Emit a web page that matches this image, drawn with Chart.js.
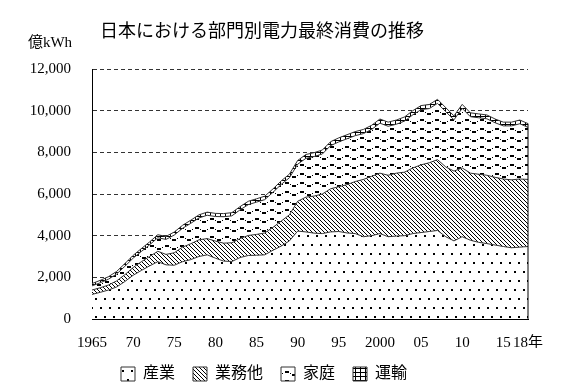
<!DOCTYPE html>
<html lang="ja">
<head>
<meta charset="utf-8">
<title>日本における部門別電力最終消費の推移</title>
<script src="https://cdn.jsdelivr.net/npm/chart.js@4.4.1/dist/chart.umd.min.js"></script>
<style>
  html, body { margin: 0; padding: 0; background: #fff; }
  #grafico { display: block; }
</style>
</head>
<body>
<canvas id="grafico" width="562" height="392"></canvas>
<script>
// --- DADOS (億kWh) ---
const years = [1965, 1966, 1967, 1968, 1969, 1970, 1971, 1972, 1973, 1974,
               1975, 1976, 1977, 1978, 1979, 1980, 1981, 1982, 1983, 1984,
               1985, 1986, 1987, 1988, 1989, 1990, 1991, 1992, 1993, 1994,
               1995, 1996, 1997, 1998, 1999, 2000, 2001, 2002, 2003, 2004,
               2005, 2006, 2007, 2008, 2009, 2010, 2011, 2012, 2013, 2014,
               2015, 2016, 2017, 2018];

const industry = [1180, 1280, 1390, 1540, 1800, 2100, 2330, 2550, 2750, 2600,
                  2580, 2750, 2850, 3000, 3080, 2920, 2780, 2760, 2950, 3050,
                  3060, 3080, 3300, 3500, 3750, 4220, 4180, 4120, 4100, 4180,
                  4200, 4130, 4100, 3950, 4000, 4100, 3950, 3980, 4000, 4100,
                  4150, 4200, 4250, 3950, 3750, 3950, 3780, 3680, 3620, 3550,
                  3480, 3420, 3450, 3480];

const commercial = [210, 220, 240, 290, 330, 370, 420, 450, 500, 500,
                    600, 700, 760, 800, 780, 820, 860, 900, 910, 960,
                    1000, 1050, 1100, 1200, 1250, 1430, 1670, 1780, 1900, 2070,
                    2150, 2320, 2500, 2750, 2850, 2900, 2950, 3020, 3050, 3150,
                    3250, 3300, 3400, 3350, 3350, 3300, 3220, 3270, 3280, 3250,
                    3240, 3260, 3270, 3220];

const household = [200, 240, 280, 330, 400, 450, 490, 560, 650, 720,
                   850, 900, 980, 1050, 1120, 1180, 1270, 1290, 1380, 1480,
                   1550, 1600, 1680, 1760, 1780, 1780, 1860, 1900, 1920, 2070,
                   2150, 2200, 2200, 2200, 2250, 2400, 2350, 2350, 2450, 2550,
                   2650, 2600, 2700, 2650, 2460, 2860, 2710, 2710, 2710, 2620,
                   2550, 2590, 2650, 2500];

const transport = [110, 115, 120, 125, 130, 135, 140, 140, 145, 145,
                   145, 145, 150, 150, 150, 150, 150, 155, 155, 160,
                   160, 165, 165, 170, 175, 180, 185, 185, 190, 190,
                   195, 195, 195, 200, 200, 200, 200, 200, 200, 200,
                   195, 195, 195, 195, 190, 190, 185, 185, 185, 180,
                   180, 180, 180, 180];

const seriesNames = ['産業', '業務他', '家庭', '運輸'];
const tickYears = [1965, 1970, 1975, 1980, 1985, 1990, 1995, 2000, 2005, 2010, 2015, 2018];
const tickLabels = ['1965', '70', '75', '80', '85', '90', '95', '2000', '05', '10', '15', '18年'];
const TITLE = '日本における部門別電力最終消費の推移';
const UNIT = '億kWh';

const FONT = '"Liberation Serif", "Noto Sans CJK JP", serif';

// --- PADRÕES (hachuras em preto e branco) ---
function makePattern(w, h, draw) {
    const tile = document.createElement('canvas');
    tile.width = w;
    tile.height = h;
    const t = tile.getContext('2d');
    t.fillStyle = '#fff';
    t.fillRect(0, 0, w, h);
    t.fillStyle = '#000';
    t.strokeStyle = '#000';
    draw(t);
    return t.createPattern(tile, 'repeat');
}

const dots = makePattern(9, 18, t => {
    t.fillRect(1, 1, 2, 2);
    t.fillRect(5, 10, 2, 2);
});

const hatch = makePattern(4, 4, t => {
    for (let i = 0; i < 4; i++) t.fillRect(i, i, 1, 1);
});

// ondas tracejadas do "家庭"
const waves = makePattern(15, 9, t => {
    t.fillRect(0, 2, 4, 2);
    t.fillRect(5, 4, 1, 1);
    t.fillRect(7, 5, 4, 2);
    t.fillRect(12, 4, 1, 1);
});

const grid = makePattern(5, 4, t => {
    t.fillRect(0, 0, 1, 4);
    t.fillRect(0, 0, 5, 1);
});

// título, unidade e borda direita da área
const extras = {
    id: 'extras',
    afterDatasetsDraw(chart) {
        const c = chart.ctx;
        const meta = chart.getDatasetMeta(chart.data.datasets.length - 1);
        const last = meta.data[meta.data.length - 1];
        c.save();
        c.strokeStyle = '#000';
        c.lineWidth = 1;
        c.beginPath();
        c.moveTo(last.x, last.y);
        c.lineTo(last.x, chart.scales.y.getPixelForValue(0));
        c.stroke();
        c.restore();
    },
    afterDraw(chart) {
        const c = chart.ctx;
        c.save();
        c.fillStyle = '#000';
        c.textAlign = 'center';
        c.textBaseline = 'middle';
        c.font = '18px "Noto Sans CJK JP", sans-serif';
        c.fillText(TITLE, 262, 30);
        c.font = '15px ' + FONT;
        c.fillText(UNIT, 50, 43);
        c.restore();
    }
};

const fills = [dots, hatch, waves, grid];
const values = [industry, commercial, household, transport];

new Chart(document.getElementById('grafico'), {
    type: 'line',
    data: {
        labels: years,
        datasets: values.map((v, i) => ({
            label: seriesNames[i],
            data: v,
            backgroundColor: fills[i],
            borderColor: '#333',
            borderWidth: 1,
            pointRadius: 0,
            tension: 0,
            fill: i === 0 ? 'origin' : '-1'
        }))
    },
    options: {
        responsive: false,
        animation: false,
        layout: { padding: { top: 69, right: 34, left: 0, bottom: 0 } },
        font: { family: FONT },
        plugins: {
            legend: {
                position: 'bottom',
                labels: {
                    boxWidth: 14,
                    boxHeight: 14,
                    padding: 18,
                    color: '#000',
                    font: { family: FONT, size: 16 }
                }
            },
            tooltip: { enabled: false }
        },
        scales: {
            x: {
                grid: { display: false, drawTicks: false },
                border: { display: true, color: '#000', width: 1 },
                ticks: {
                    autoSkip: false,
                    maxRotation: 0,
                    minRotation: 0,
                    padding: 15,
                    color: '#000',
                    font: { family: FONT, size: 15 },
                    callback: (value, index) => {
                        const pos = tickYears.indexOf(years[index]);
                        return pos >= 0 ? tickLabels[pos] : '';
                    }
                },
                afterFit: s => { s.height = 29; }
            },
            y: {
                stacked: true,
                min: 0,
                max: 12000,
                grid: { color: '#333', lineWidth: 1, drawTicks: false },
                border: { display: true, color: '#000', width: 1, dash: [4, 3] },
                ticks: {
                    stepSize: 2000,
                    padding: 21,
                    color: '#000',
                    font: { family: FONT, size: 15 },
                    callback: v => v.toLocaleString('en-US')
                },
                afterFit: s => { s.width = 92; }
            }
        }
    },
    plugins: [extras]
});
</script>
</body>
</html>
